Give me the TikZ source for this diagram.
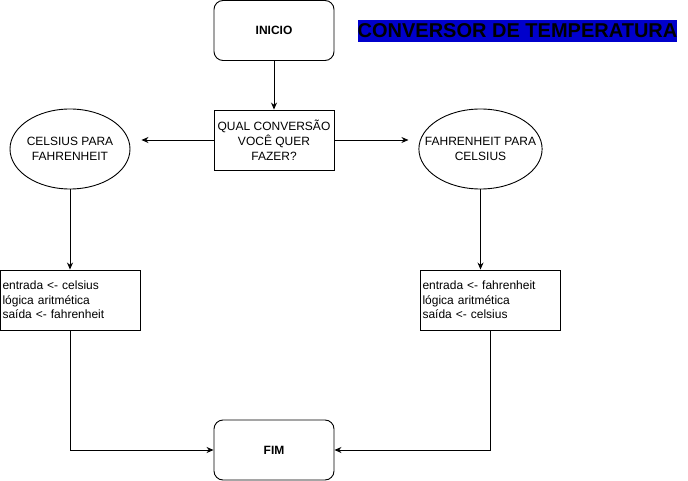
\documentclass[tikz,border=0pt]{standalone}
\usepackage{fontspec}
\setmainfont{Liberation Sans}
\usetikzlibrary{arrows.meta,shapes.geometric}
\definecolor{titleblue}{RGB}{0,0,204}
\begin{document}
\begin{tikzpicture}[x=1pt,y=-1pt,
  base/.style={draw=black,line width=0.9pt,minimum width=120pt,minimum height=60pt,inner sep=1pt,align=center,font=\fontsize{12}{15}\selectfont},
  term/.style={base,rounded corners=9pt,font=\fontsize{12}{15}\selectfont\bfseries},
  proc/.style={base},
  oval/.style={base,ellipse,minimum width=120pt,minimum height=80pt,inner xsep=-12pt,inner ysep=0pt},
  code/.style={draw=black,line width=0.9pt,minimum width=140pt,minimum height=60pt,inner sep=2pt,align=left,text width=136pt,font=\fontsize{12}{14.5}\selectfont},
  conn/.style={draw=black,line width=0.9pt,-{Stealth[length=7pt,width=6pt]}},
  title/.style={fill=titleblue,inner sep=0pt,minimum width=319pt,minimum height=22pt,font=\fontsize{20}{22}\selectfont\bfseries}
]
\useasboundingbox (0,0) rectangle (688,481);
\node[term] (inicio) at (274,30.5) {INICIO};
\node[proc] (qual) at (274,140) {QUAL CONVERSÃO\\VOCÊ QUER\\FAZER?};
\node[oval] (cf) at (70,149) {CELSIUS PARA\\FAHRENHEIT};
\node[oval] (fc) at (480.5,149) {FAHRENHEIT PARA\\CELSIUS};
\node[code] (bl) at (70.5,300) {entrada <- celsius\\lógica aritmética\\saída <- fahrenheit};
\node[code] (br) at (490.5,300) {entrada <- fahrenheit\\lógica aritmética\\saída <- celsius};
\node[term] (fim) at (274,450) {FIM};
\node[title] (tt) at (517.5,31) {CONVERSOR DE TEMPERATURA};

\draw[conn] (inicio.south) -- (qual.north);
\draw[conn,shorten >=11pt] (qual.west) -- (qual.west -| cf.east);
\draw[conn,shorten >=10pt] (qual.east) -- (qual.east -| fc.west);
\draw[conn] (cf.south) -- (cf.south |- bl.north);
\draw[conn] (fc.south) -- (fc.south |- br.north);
\draw[conn] (bl.south) |- (fim.west);
\draw[conn] (br.south) |- (fim.east);
\end{tikzpicture}
\end{document}
